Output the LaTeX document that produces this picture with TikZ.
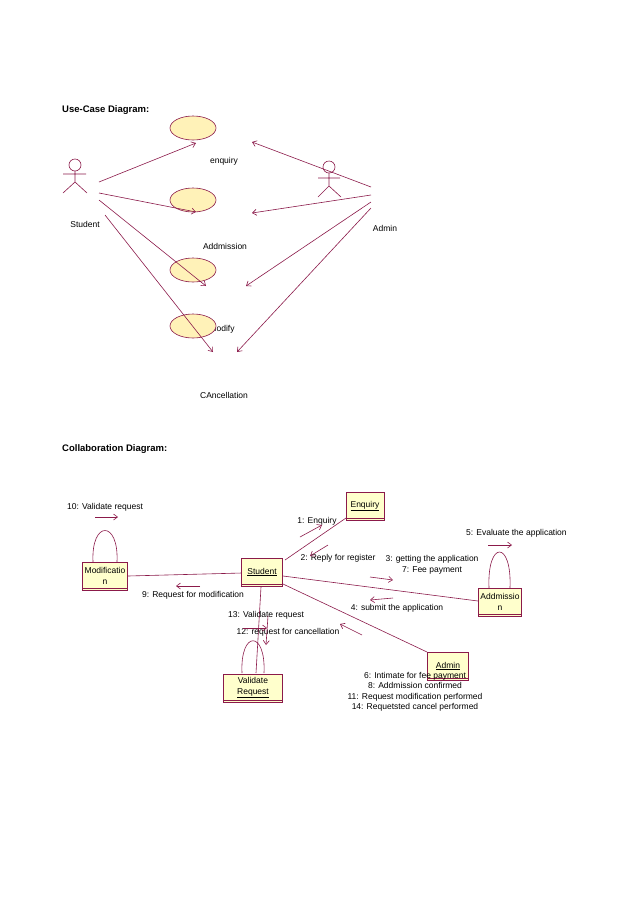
\documentclass[tikz,border=0pt]{standalone}
\usepackage{fontspec}
\setmainfont{Liberation Sans}
\usetikzlibrary{arrows.meta,shapes.geometric}
\definecolor{ln}{HTML}{8B1A4A}
\definecolor{fl}{HTML}{FFFFCC}
\definecolor{el}{HTML}{FFF2B8}
\begin{document}
\begin{tikzpicture}[x=1pt,y=-1pt,
  every node/.style={font=\fontsize{8.5}{10.5}\selectfont,inner sep=0pt},
  ttl/.style={font=\bfseries\fontsize{9.5}{11}\selectfont,anchor=west},
  ln/.style={draw=ln,line width=0.6pt},
  arr/.style={ln,-{Straight Barb[length=4pt,width=6pt]}},
  uc/.style={ln,fill=el,ellipse,minimum width=46pt,minimum height=24pt},
  obj/.style={ln,fill=fl,rectangle,minimum width=#1,minimum height=28pt,align=center},
]
\useasboundingbox (0,0) rectangle (638,903);
\node[ttl] (t1) at (62,110) {Use-Case Diagram:};
\node[ttl] (t2) at (62,449) {Collaboration Diagram:};
% labels
\node (le) at (224,161) {enquiry};
\node (la) at (225,246) {Addmission};
\node (lm) at (222,329) {Modify};
\node (lc) at (224,395) {CAncellation};
% use cases
\node[uc] (u1) at (193,128) {};
\node[uc] (u2) at (193,200) {};
\node[uc] (u3) at (193,270) {};
\node[uc] (u4) at (193,326) {};
% actors
\begin{scope}[ln]
\draw (75,165) circle (6);
\draw (75,171) -- (75,182) (63,174) -- (86,174) (63,193) -- (75,182) -- (87,193);
\draw (329,167) circle (6);
\draw (329,173) -- (329,186) (318,178) -- (340,178) (318,197) -- (329,186) -- (341,197);
\end{scope}
\node (st) at (85,224) {Student};
\node (ad) at (385,228) {Admin};
\coordinate (s1) at (99,182); \coordinate (s2) at (99,193);
\coordinate (s3) at (99,200); \coordinate (s4) at (105,215);
\coordinate (a1) at (371,187); \coordinate (a2) at (371,195);
\coordinate (a3) at (371,202); \coordinate (a4) at (371,208);
\coordinate (e1) at (196,143); \coordinate (e2) at (196,212);
\coordinate (e3) at (206,286); \coordinate (e4) at (213,352);
\coordinate (f1) at (252,142); \coordinate (f2) at (252,213);
\coordinate (f3) at (246,286); \coordinate (f4) at (237,352);
\draw[arr] (s1) -- (e1); \draw[arr] (s2) -- (e2);
\draw[arr] (s3) -- (e3); \draw[arr] (s4) -- (e4);
\draw[arr] (a1) -- (f1); \draw[arr] (a2) -- (f2);
\draw[arr] (a3) -- (f3); \draw[arr] (a4) -- (f4);
% collaboration links
\draw[ln] (93,562) .. controls (91,520) and (119,520) .. (117,562);
\draw[ln] (489,588) .. controls (487,540) and (512,540) .. (510,588);
\draw[ln] (242,673) .. controls (240,630) and (266,630) .. (264,673);
\draw[ln] (285,560) -- (346,518);
\draw[ln] (128,576) -- (242,573);
\draw[ln] (283,576) -- (478,601);
\draw[ln] (283,584) -- (427,652);
\draw[ln] (261,587) -- (256,673);
% objects
\newcommand{\obx}[4]{\node[obj=#3] (#1) at #2 {#4};
  \draw[ln] ([yshift=2.5pt]#1.south west) -- ([yshift=2.5pt]#1.south east);}
\obx{oe}{(365,506)}{38pt}{\underline{Enquiry}}
\obx{os}{(262,572)}{41pt}{\underline{Student}}
\obx{om}{(105,576)}{45pt}{Modificatio\\n}
\obx{oa}{(500,602)}{43pt}{Addmissio\\n}
\obx{od}{(448,666)}{41pt}{\underline{Admin}}
\obx{ov}{(253,688)}{59pt}{Validate\\\underline{Request}}
% messages
\node (m10) at (105,507) {10: Validate request};
\draw[arr] (95,517) -- (118,517);
\node (m1) at (317,521) {1: Enquiry};
\draw[arr] (300,537) -- (322,525);
\node (m2) at (338,558) {2: Reply for register};
\draw[arr] (328,545) -- (310,556);
\node[align=center] (m3) at (432,565) {3: getting the application\\7: Fee payment};
\draw[arr] (370,577) -- (393,580);
\begin{scope}
\clip (400,520) rectangle (574,545);
\node (m5) at (520,533) [anchor=west,xshift=-54pt] {5: Evaluate the application};
\end{scope}
\draw[arr] (488,545) -- (512,545);
\node (m4) at (397,608) {4: submit the application};
\draw[arr] (393,598) -- (370,600);
\node (m9) at (193,595) {9: Request for modification};
\draw[arr] (200,586) -- (176,586);
\node (m13) at (266,615) {13: Validate request};
\node (m12) at (288,632) {12: request for cancellation};
\draw[arr] (243,628) -- (267,628);
\draw[arr] (268,616) -- (266,645);
\draw[arr] (362,635) -- (340,624);
\node[align=center] (m6) at (415,692) {6: Intimate for fee payment\\8: Addmission confirmed\\11: Request modification performed\\14: Requetsted cancel performed};
\end{tikzpicture}
\end{document}
